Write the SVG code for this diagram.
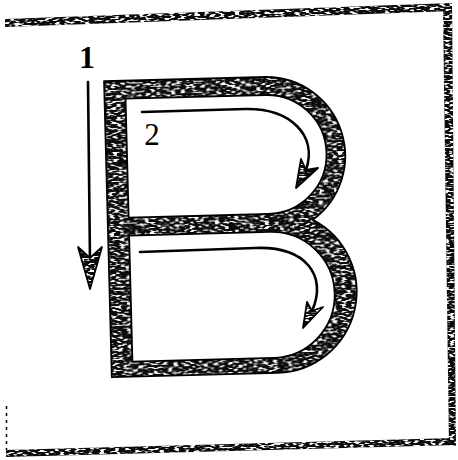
<svg xmlns="http://www.w3.org/2000/svg" width="458" height="460" viewBox="0 0 458 460">
<style>
.ink{fill:#0a0a0a;}
.edge{fill:none;stroke:#000;stroke-width:1.8;stroke-linejoin:round}
.line{fill:none;stroke:#000;stroke-width:2.6;stroke-linecap:round}
.lbl{font-family:"Liberation Serif","Times New Roman",serif;fill:#000}
</style>
<defs>
<filter id="speckle" filterUnits="userSpaceOnUse" x="0" y="0" width="458" height="460" color-interpolation-filters="sRGB">
<feTurbulence type="fractalNoise" baseFrequency="0.2 0.55" numOctaves="1" seed="7" result="n"/>
<feColorMatrix in="n" type="matrix" values="0 0 0 0 1  0 0 0 0 1  0 0 0 0 1  9 0 0 0 -4.6" result="w"/>
<feComposite in="w" in2="SourceAlpha" operator="in" result="wc"/>
<feMerge><feMergeNode in="SourceGraphic"/><feMergeNode in="wc"/></feMerge>
</filter>
</defs>
<rect width="458" height="460" fill="#fff"/>

<g id="frame">
  <g filter="url(#speckle)" class="ink">
    <polygon points="5,19 452,3 452,11 5,27"/>
    <polygon points="443,7 452,3 456,446 449,446"/>
    <polygon points="6,450 455,438 456,445 6,457"/>
  </g>
  <line x1="6.5" y1="406" x2="6.5" y2="450" stroke="#000" stroke-width="1.5" stroke-dasharray="3 4"/>
</g>

<g id="letter-B" transform="rotate(-1.5 230 230)">
  <path filter="url(#speckle)" class="ink" fill-rule="evenodd" d="M108 78 H270 A79 79 0 0 1 313 222 A81 81 0 0 1 274 374 H108 Z M129 96 H269 A59.5 59.5 0 0 1 269 215 H129 Z M129 233 H270 A63 63 0 0 1 270 359 H129 Z"/>
  <path class="edge" fill-rule="evenodd" d="M108 78 H270 A79 79 0 0 1 313 222 A81 81 0 0 1 274 374 H108 Z M129 96 H269 A59.5 59.5 0 0 1 269 215 H129 Z M129 233 H270 A63 63 0 0 1 270 359 H129 Z"/>
</g>

<g id="connectors">
  <g id="arrow-1">
    <path class="line" d="M88 82 L90 262"/>
    <polygon filter="url(#speckle)" class="ink" points="90,289 78,247 90,258 102,247"/>
    <polygon class="edge" points="90,289 78,247 90,258 102,247"/>
  </g>
  <g id="arrow-2">
    <path class="line" d="M142 112 L245 109 C290 108 318 135 306 170"/>
    <polygon filter="url(#speckle)" class="ink" points="296,188 301,159 306,170 318,168"/>
    <polygon class="edge" points="296,188 301,159 306,170 318,168"/>
  </g>
  <g id="arrow-3">
    <path class="line" d="M140 252 L255 248 C305 246 328 275 312 311"/>
    <polygon filter="url(#speckle)" class="ink" points="303,328 307,302 312,311 323,307"/>
    <polygon class="edge" points="303,328 307,302 312,311 323,307"/>
  </g>
</g>

<g id="label-1"><text class="lbl" x="87" y="68" font-size="32" font-weight="bold" text-anchor="middle">1</text></g>
<g id="label-2"><text class="lbl" x="152" y="145" font-size="31" text-anchor="middle">2</text></g>
</svg>
